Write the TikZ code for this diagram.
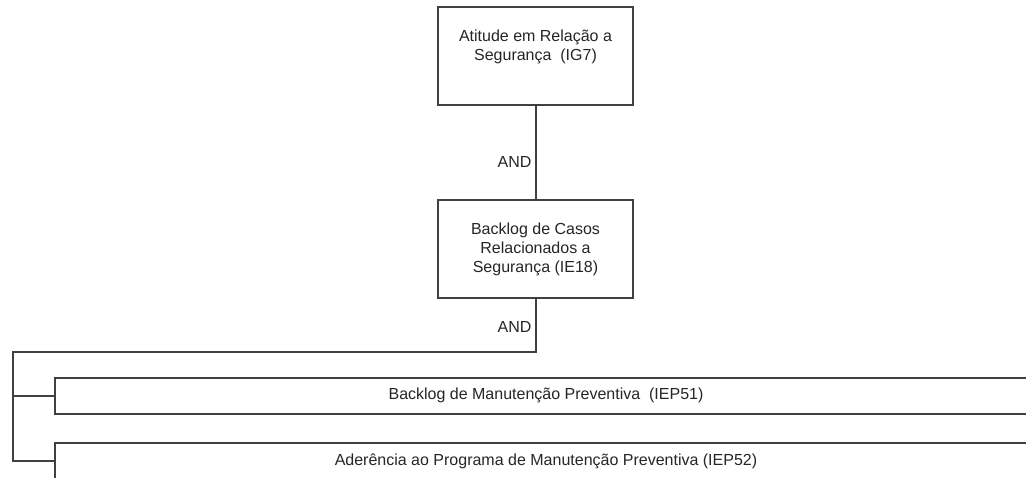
\documentclass[tikz,border=0pt]{standalone}
\usepackage{fontspec}
\setmainfont{Liberation Sans}

\begin{document}
\begin{tikzpicture}[x=1pt,y=-1pt,
    box/.style={draw=black!75,line width=2pt,fill=white,align=center,
      inner sep=0pt,text=black!85,font=\fontsize{16}{19}\selectfont},
    bigbox/.style={box,minimum width=195pt,minimum height=98pt},
    barbox/.style={box,minimum width=982pt,minimum height=36pt},
    link/.style={draw=black!75,line width=2pt},
    gate/.style={left,inner sep=3pt,text=black!85,font=\fontsize{16}{19}\selectfont}]
  \useasboundingbox (0,0) rectangle (1026,477);
  \clip (0,0) rectangle (1026,477);

  \node [bigbox] (ig7) at (535.5,56) {Atitude em Relação a\\Segurança\ \ (IG7)\\[3pt]};
  \node [bigbox] (ie18) at (535.5,249) {Backlog de Casos\\Relacionados a\\Segurança (IE18)};

  \node [barbox] (iep51) at (546,395.5) {Backlog de Manutenção Preventiva\ \ (IEP51)};
  \node [barbox] (iep52) at (546,461) {Aderência ao Programa de Manutenção Preventiva (IEP52)};

  \coordinate (fork) at (13,352);

  \draw [link] (ig7.south) -- node [gate,pos=0.6] {AND} (ie18.north);
  \draw [link] (ie18.south) |- node [gate,pos=0.26] {AND} (fork) |- (iep52.west);
  \draw [link] (fork |- iep51.west) -- (iep51.west);
\end{tikzpicture}
\end{document}
